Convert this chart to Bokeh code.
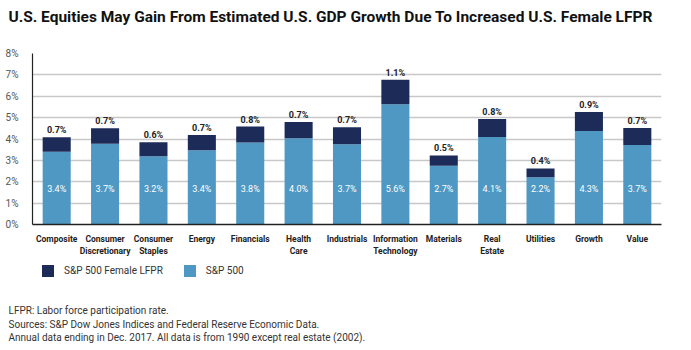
from bokeh.plotting import figure
from bokeh.models import (ColumnDataSource, Legend, LegendItem, FixedTicker,
                          Range1d, FactorRange)
from bokeh.layouts import column
from bokeh.core.properties import value
from bokeh.embed import file_html
from bokeh.resources import INLINE

categories = ["Composite", "Consumer\nDiscretionary", "Consumer\nStaples", "Energy",
              "Financials", "Health\nCare", "Industrials", "Information\nTechnology",
              "Materials", "Real\nEstate", "Utilities", "Growth", "Value"]
sp500 = [3.40, 3.78, 3.19, 3.47, 3.84, 4.03, 3.76, 5.62, 2.75, 4.09, 2.21, 4.38, 3.72]
female_lfpr = [0.68, 0.72, 0.66, 0.72, 0.74, 0.77, 0.79, 1.15, 0.48, 0.85, 0.41, 0.88, 0.79]
sp500_labels = ["3.4%", "3.7%", "3.2%", "3.4%", "3.8%", "4.0%", "3.7%", "5.6%",
                "2.7%", "4.1%", "2.2%", "4.3%", "3.7%"]
female_labels = ["0.7%", "0.7%", "0.6%", "0.7%", "0.8%", "0.7%", "0.7%", "1.1%",
                 "0.5%", "0.8%", "0.4%", "0.9%", "0.7%"]
y_ticks = [0, 1, 2, 3, 4, 5, 6, 7, 8]
series_names = ["S&P 500 Female LFPR", "S&P 500"]

title = "U.S. Equities May Gain From Estimated U.S. GDP Growth Due To Increased U.S. Female LFPR"
footnotes = ["LFPR: Labor force participation rate.",
             "Sources: S&P Dow Jones Indices and Federal Reserve Economic Data.",
             "Annual data ending in Dec. 2017. All data is from 1990 except real estate (2002)."]

LIGHT = "#4e98c3"
DARK = "#1d2b59"
FONT = "Roboto"
W = 691


def blank_fig(h, **kw):
    f = figure(width=W, height=h, output_backend="svg", toolbar_location=None,
               x_range=Range1d(0, W), y_range=Range1d(h, 0),
               x_axis_location=None, y_axis_location=None, frame_align=False, **kw)
    f.grid.grid_line_color = None
    f.outline_line_color = None
    return f


# ---- header (title) ----
header = blank_fig(40, min_border=0)
header.text(x=[8], y=[16], text=[title], text_font=value(FONT), text_font_size="15.5px",
            text_font_style="bold", text_color="#111111", text_baseline="middle")

# ---- main chart ----
totals = [a + b for a, b in zip(sp500, female_lfpr)]
src = ColumnDataSource(dict(cat=categories, sp500=sp500, female=female_lfpr,
                            total=totals, sp_lab=sp500_labels, f_lab=female_labels,
                            inner_y=[1.66] * len(categories)))

p = figure(width=W, height=218, output_backend="svg", toolbar_location=None,
           x_range=FactorRange(*categories), y_range=Range1d(0, 8),
           min_border_left=32, min_border_right=30, min_border_top=13,
           min_border_bottom=31, frame_align=False)
p.outline_line_color = None

p.vbar_stack(["sp500", "female"], x="cat", width=0.58, source=src,
             color=[LIGHT, DARK], line_color=None)

p.text(x="cat", y="total", text="f_lab", source=src, text_align="center",
       text_baseline="bottom", y_offset=-2, text_font=value(FONT),
       text_font_size="9px", text_font_style="bold", text_color="#222222")
p.text(x="cat", y="inner_y", text="sp_lab", source=src, text_align="center",
       text_baseline="middle", text_font=value(FONT), text_font_size="9px",
       text_color="white")

p.yaxis.ticker = FixedTicker(ticks=y_ticks)
p.yaxis.major_label_overrides = {t: f"{t}%" for t in y_ticks}
p.yaxis.major_tick_line_color = None
p.yaxis.minor_tick_line_color = None
p.yaxis.axis_line_color = "#222222"
p.yaxis.axis_line_width = 1.2
p.yaxis.major_label_text_font = FONT
p.yaxis.major_label_text_font_size = "10px"
p.yaxis.major_label_text_color = "#555555"
p.yaxis.major_label_standoff = 8

p.xaxis.major_tick_line_color = None
p.xaxis.minor_tick_line_color = None
p.xaxis.axis_line_color = "#222222"
p.xaxis.axis_line_width = 1.5
p.xaxis.major_label_text_font = FONT
p.xaxis.major_label_text_font_size = "8.5px"
p.xaxis.major_label_text_font_style = "bold"
p.xaxis.major_label_text_color = "#222222"
p.xaxis.major_label_standoff = 3
p.xaxis.major_label_text_line_height = 1.2

p.xgrid.grid_line_color = None
p.ygrid.grid_line_color = "#c8c8c8"
p.ygrid.grid_line_width = 1.5

# ---- legend strip ----
leg_fig = blank_fig(26, min_border_left=40, min_border_top=5, min_border_right=0,
                    min_border_bottom=0)
leg_fig.x_range = Range1d(0, 1)
leg_fig.y_range = Range1d(0, 1)
sw_dark = leg_fig.vbar(x=[0], top=[0], width=0, color=DARK, line_color=None)
sw_light = leg_fig.vbar(x=[0], top=[0], width=0, color=LIGHT, line_color=None)
legend = Legend(items=[LegendItem(label=series_names[0], renderers=[sw_dark]),
                       LegendItem(label=series_names[1], renderers=[sw_light])],
                orientation="horizontal", location="top_left", padding=0, margin=0,
                border_line_color=None, background_fill_alpha=0,
                glyph_width=15, glyph_height=15, label_standoff=9, spacing=19,
                label_text_font=FONT, label_text_font_size="10px",
                label_text_color="#333333", label_height=15)
leg_fig.add_layout(legend)

# ---- notes ----
notes = blank_fig(66, min_border=0)
notes.text(x=[8, 8, 8], y=[26, 39.5, 53], text=footnotes, text_font=value(FONT),
           text_font_size="10px", text_color="#333333", text_baseline="middle")

layout = column(header, p, leg_fig, notes, spacing=0)
open("out.html", "w").write(file_html(layout, INLINE))
